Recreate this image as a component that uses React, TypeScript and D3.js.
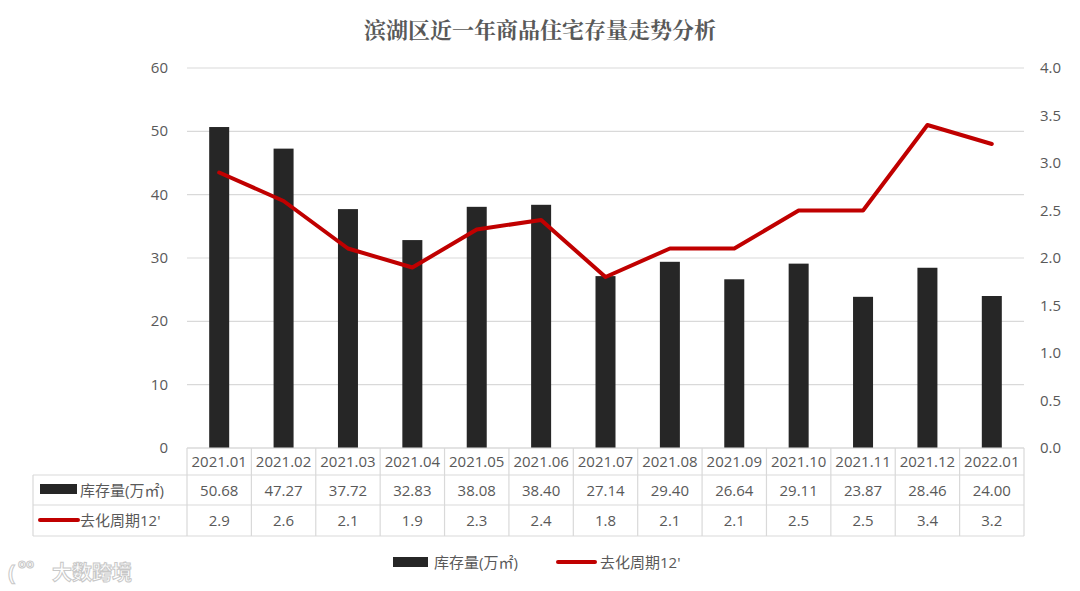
import React from "react";
import * as d3 from "d3";

const categories = ["2021.01","2021.02","2021.03","2021.04","2021.05","2021.06","2021.07","2021.08","2021.09","2021.10","2021.11","2021.12","2022.01"];
const stockValues = [50.68,47.27,37.72,32.83,38.08,38.40,27.14,29.40,26.64,29.11,23.87,28.46,24.00];
const cycleValues = [2.9,2.6,2.1,1.9,2.3,2.4,1.8,2.1,2.1,2.5,2.5,3.4,3.2];
const leftTicks = [0,10,20,30,40,50,60];
const rightTicks = [0,0.5,1,1.5,2,2.5,3,3.5,4];
const title = "滨湖区近一年商品住宅存量走势分析";
const stockName = "库存量(万㎡)";
const cycleName = "去化周期12'";

const W = 1080, H = 591;
const plotL = 187, plotR = 1024, plotT = 68, plotB = 448;
const tableL = 33;
const rowY = [448, 475, 505, 536];
const font = "'Open Sans', 'Noto Sans CJK SC', sans-serif";
const txt = "#595959";
const barColor = "#262626";
const lineColor = "#C00000";
const gridColor = "#D9D9D9";
const fs = 15;

export default function App() {
  const x = d3.scaleBand<string>().domain(categories).range([plotL, plotR]).paddingInner(0).paddingOuter(0);
  const yL = d3.scaleLinear().domain([0, 60]).range([plotB, plotT]);
  const yR = d3.scaleLinear().domain([0, 4]).range([plotB, plotT]);
  const bw = 20;
  const cx = (c: string) => (x(c) as number) + x.bandwidth() / 2;
  const line = d3.line<number>().x((_, i) => cx(categories[i])).y(d => yR(d));

  return (
    <svg width={W} height={H} style={{ position: "absolute", left: 0, top: 0, background: "#fff", fontFamily: font }}>
      <rect width={W} height={H} fill="#fff" />
      <text x={540} y={38} textAnchor="middle" fontSize={22} fontWeight="bold" fill={txt} fontFamily="'Noto Serif CJK SC', 'Noto Sans CJK SC', serif">{title}</text>
      {leftTicks.map(t => (
        <g key={"l" + t}>
          <line x1={plotL} x2={plotR} y1={yL(t)} y2={yL(t)} stroke={gridColor} strokeWidth={1.2} />
          <text x={168} y={yL(t) + 5} textAnchor="end" fontSize={fs} fill={txt}>{t}</text>
        </g>
      ))}
      {rightTicks.map(t => (
        <text key={"r" + t} x={1040} y={yR(t) + 5} textAnchor="start" fontSize={fs} fill={txt}>{t.toFixed(1)}</text>
      ))}
      {stockValues.map((v, i) => (
        <rect key={"b" + i} x={cx(categories[i]) - bw / 2} y={yL(v)} width={bw} height={plotB - yL(v)} fill={barColor} />
      ))}
      <path d={line(cycleValues) || ""} fill="none" stroke={lineColor} strokeWidth={4} strokeLinejoin="round" strokeLinecap="round" />

      {/* data table */}
      <g stroke={gridColor} strokeWidth={1.2} fill="none">
        <line x1={plotL} x2={plotR} y1={rowY[0]} y2={rowY[0]} />
        <line x1={tableL} x2={plotR} y1={rowY[1]} y2={rowY[1]} />
        <line x1={tableL} x2={plotR} y1={rowY[2]} y2={rowY[2]} />
        <line x1={tableL} x2={plotR} y1={rowY[3]} y2={rowY[3]} />
        <line x1={tableL} x2={tableL} y1={rowY[1]} y2={rowY[3]} />
        {categories.map(c => (
          <line key={"v" + c} x1={x(c) as number} x2={x(c) as number} y1={rowY[0]} y2={rowY[3]} />
        ))}
        <line x1={plotR} x2={plotR} y1={rowY[0]} y2={rowY[3]} />
      </g>
      {categories.map((c, i) => (
        <g key={"t" + c}>
          <text x={cx(c)} y={rowY[0] + 19} textAnchor="middle" fontSize={fs} fill={txt}>{c}</text>
          <text x={cx(c)} y={rowY[1] + 21} textAnchor="middle" fontSize={fs} fill={txt}>{stockValues[i].toFixed(2)}</text>
          <text x={cx(c)} y={rowY[2] + 21} textAnchor="middle" fontSize={fs} fill={txt}>{cycleValues[i].toFixed(1)}</text>
        </g>
      ))}
      <rect x={40} y={rowY[1] + 9} width={37} height={10} fill={barColor} />
      <text x={80} y={rowY[1] + 21} fontSize={fs} fill={txt}>{stockName}</text>
      <line x1={40} x2={78} y1={rowY[2] + 15} y2={rowY[2] + 15} stroke={lineColor} strokeWidth={4} strokeLinecap="round" />
      <text x={80} y={rowY[2] + 21} fontSize={fs} fill={txt}>{cycleName}</text>

      {/* legend */}
      <rect x={393} y={557} width={35} height={10} fill={barColor} />
      <text x={434} y={568} fontSize={fs} fill={txt}>{stockName}</text>
      <line x1={558} x2={595} y1={562} y2={562} stroke={lineColor} strokeWidth={4} strokeLinecap="round" />
      <text x={600} y={568} fontSize={fs} fill={txt}>{cycleName}</text>

      {/* watermark */}
      <text x={8} y={580} fontSize={22} fontWeight="bold" fill="#fff" stroke="#c8c8c8" strokeWidth={1}>{"("}</text>
      <text x={18} y={568} fontSize={13} fontWeight="bold" fill="#fff" stroke="#c8c8c8" strokeWidth={1}>oo</text>
      <text x={52} y={580} fontSize={20} fontWeight="bold" fill="#fff" stroke="#c8c8c8" strokeWidth={1}>大数跨境</text>
    </svg>
  );
}
